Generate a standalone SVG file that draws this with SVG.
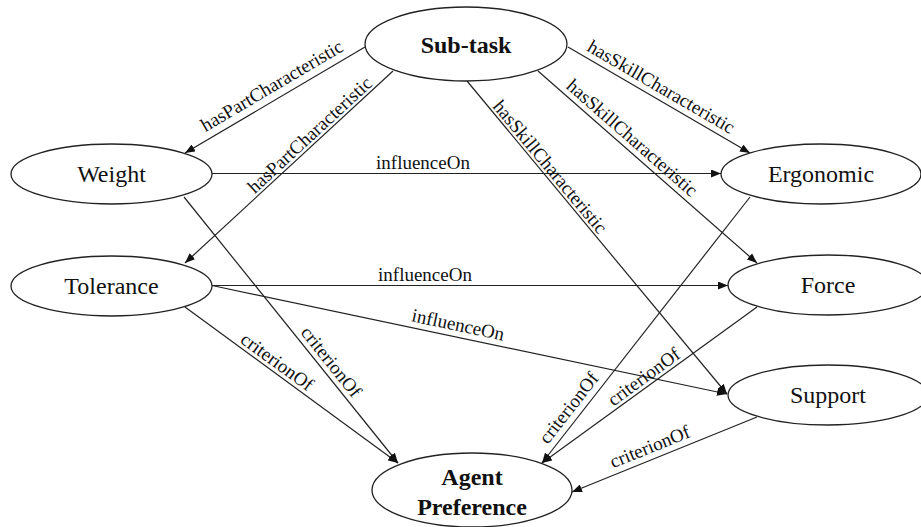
<svg xmlns="http://www.w3.org/2000/svg" width="921" height="527" viewBox="0 0 921 527" font-family="'Liberation Serif', 'Times New Roman', Tinos, 'Nimbus Roman', 'Noto Serif', 'DejaVu Serif', FreeSerif, serif">
  <style>
    .node ellipse { fill: #ffffff; stroke: #222222; stroke-width: 1.3; }
    .node text { font-family: 'Liberation Serif', 'Times New Roman', Tinos, 'Nimbus Roman', 'Noto Serif', 'DejaVu Serif', FreeSerif, serif; font-size: 24px; fill: #111111; text-anchor: middle; }
    .node text.b { font-weight: bold; }
    .edge line { stroke: #222222; stroke-width: 1.2; marker-end: url(#arrow); }
    .lbl { font-family: 'Liberation Serif', 'Times New Roman', Tinos, 'Nimbus Roman', 'Noto Serif', 'DejaVu Serif', FreeSerif, serif; font-size: 19px; fill: #111111; text-anchor: middle; }
  </style>
  <defs>
    <marker id="arrow" viewBox="0 0 10 8" refX="10" refY="4" markerWidth="10" markerHeight="8" markerUnits="userSpaceOnUse" orient="auto">
      <path d="M0,0 L10,4 L0,8 Z" fill="#111111"/>
    </marker>
  </defs>
  <rect width="921" height="527" fill="#ffffff"/>

  <g id="connectors">
    <!-- Sub-task -> Weight -->
    <g class="edge"><line x1="365" y1="47" x2="185" y2="153"/></g>
    <text class="lbl" transform="translate(272,86) rotate(-30.5)" y="6">hasPartCharacteristic</text>
    <!-- Sub-task -> Tolerance -->
    <g class="edge"><line x1="393" y1="71" x2="185" y2="263"/></g>
    <text class="lbl" transform="translate(310,135) rotate(-42.7)" y="6">hasPartCharacteristic</text>
    <!-- Weight -> Ergonomic -->
    <g class="edge"><line x1="212" y1="173.5" x2="721" y2="173.5"/></g>
    <text class="lbl" x="423" y="169">influenceOn</text>
    <!-- Tolerance -> Force -->
    <g class="edge"><line x1="212" y1="285.5" x2="728" y2="285.5"/></g>
    <text class="lbl" x="425" y="281">influenceOn</text>
    <!-- Tolerance -> Support -->
    <g class="edge"><line x1="212" y1="285.5" x2="727" y2="394"/></g>
    <text class="lbl" transform="translate(458,325) rotate(12)" y="6">influenceOn</text>
    <!-- Weight -> Agent Preference -->
    <g class="edge"><line x1="184" y1="197" x2="398" y2="463"/></g>
    <text class="lbl" transform="translate(331,362) rotate(51.4)" y="6">criterionOf</text>
    <!-- Tolerance -> Agent Preference -->
    <g class="edge"><line x1="185" y1="307" x2="398" y2="463"/></g>
    <text class="lbl" transform="translate(277,362) rotate(36)" y="6">criterionOf</text>
    <!-- Sub-task -> Ergonomic -->
    <g class="edge"><line x1="568" y1="47" x2="750" y2="153"/></g>
    <text class="lbl" transform="translate(661,87) rotate(30.2)" y="6">hasSkillCharacteristic</text>
    <!-- Sub-task -> Force -->
    <g class="edge"><line x1="538" y1="71" x2="757" y2="263"/></g>
    <text class="lbl" transform="translate(632,138) rotate(41.2)" y="6">hasSkillCharacteristic</text>
    <!-- Sub-task -> Support -->
    <g class="edge"><line x1="467" y1="81" x2="727" y2="394"/></g>
    <text class="lbl" transform="translate(550,167) rotate(50.2)" y="6">hasSkillCharacteristic</text>
    <!-- Ergonomic -> Agent Preference -->
    <g class="edge"><line x1="750" y1="197" x2="542" y2="463"/></g>
    <text class="lbl" transform="translate(569,408) rotate(-52)" y="6">criterionOf</text>
    <!-- Force -> Agent Preference -->
    <g class="edge"><line x1="757" y1="307" x2="542" y2="463"/></g>
    <text class="lbl" transform="translate(644,377) rotate(-36)" y="6">criterionOf</text>
    <!-- Support -> Agent Preference -->
    <g class="edge"><line x1="757" y1="417" x2="572" y2="492"/></g>
    <text class="lbl" transform="translate(650,447) rotate(-22)" y="6">criterionOf</text>
  </g>

  <g id="subtask" class="node">
    <ellipse cx="466" cy="44" rx="101" ry="37"/>
    <text class="b" x="466" y="53">Sub-task</text>
  </g>
  <g id="weight" class="node">
    <ellipse cx="111.5" cy="174" rx="100.5" ry="30"/>
    <text x="111.5" y="182">Weight</text>
  </g>
  <g id="tolerance" class="node">
    <ellipse cx="111.5" cy="286" rx="100.5" ry="30"/>
    <text x="111.5" y="294">Tolerance</text>
  </g>
  <g id="ergonomic" class="node">
    <ellipse cx="821" cy="174" rx="100" ry="30"/>
    <text x="821" y="182">Ergonomic</text>
  </g>
  <g id="force" class="node">
    <ellipse cx="828" cy="285" rx="100" ry="30"/>
    <text x="828" y="293">Force</text>
  </g>
  <g id="support" class="node">
    <ellipse cx="828" cy="395" rx="100" ry="30"/>
    <text x="828" y="403">Support</text>
  </g>
  <g id="agent-preference" class="node">
    <ellipse cx="472" cy="490" rx="100" ry="37"/>
    <text class="b" x="472" y="485">Agent</text>
    <text class="b" x="472" y="515">Preference</text>
  </g>
</svg>
